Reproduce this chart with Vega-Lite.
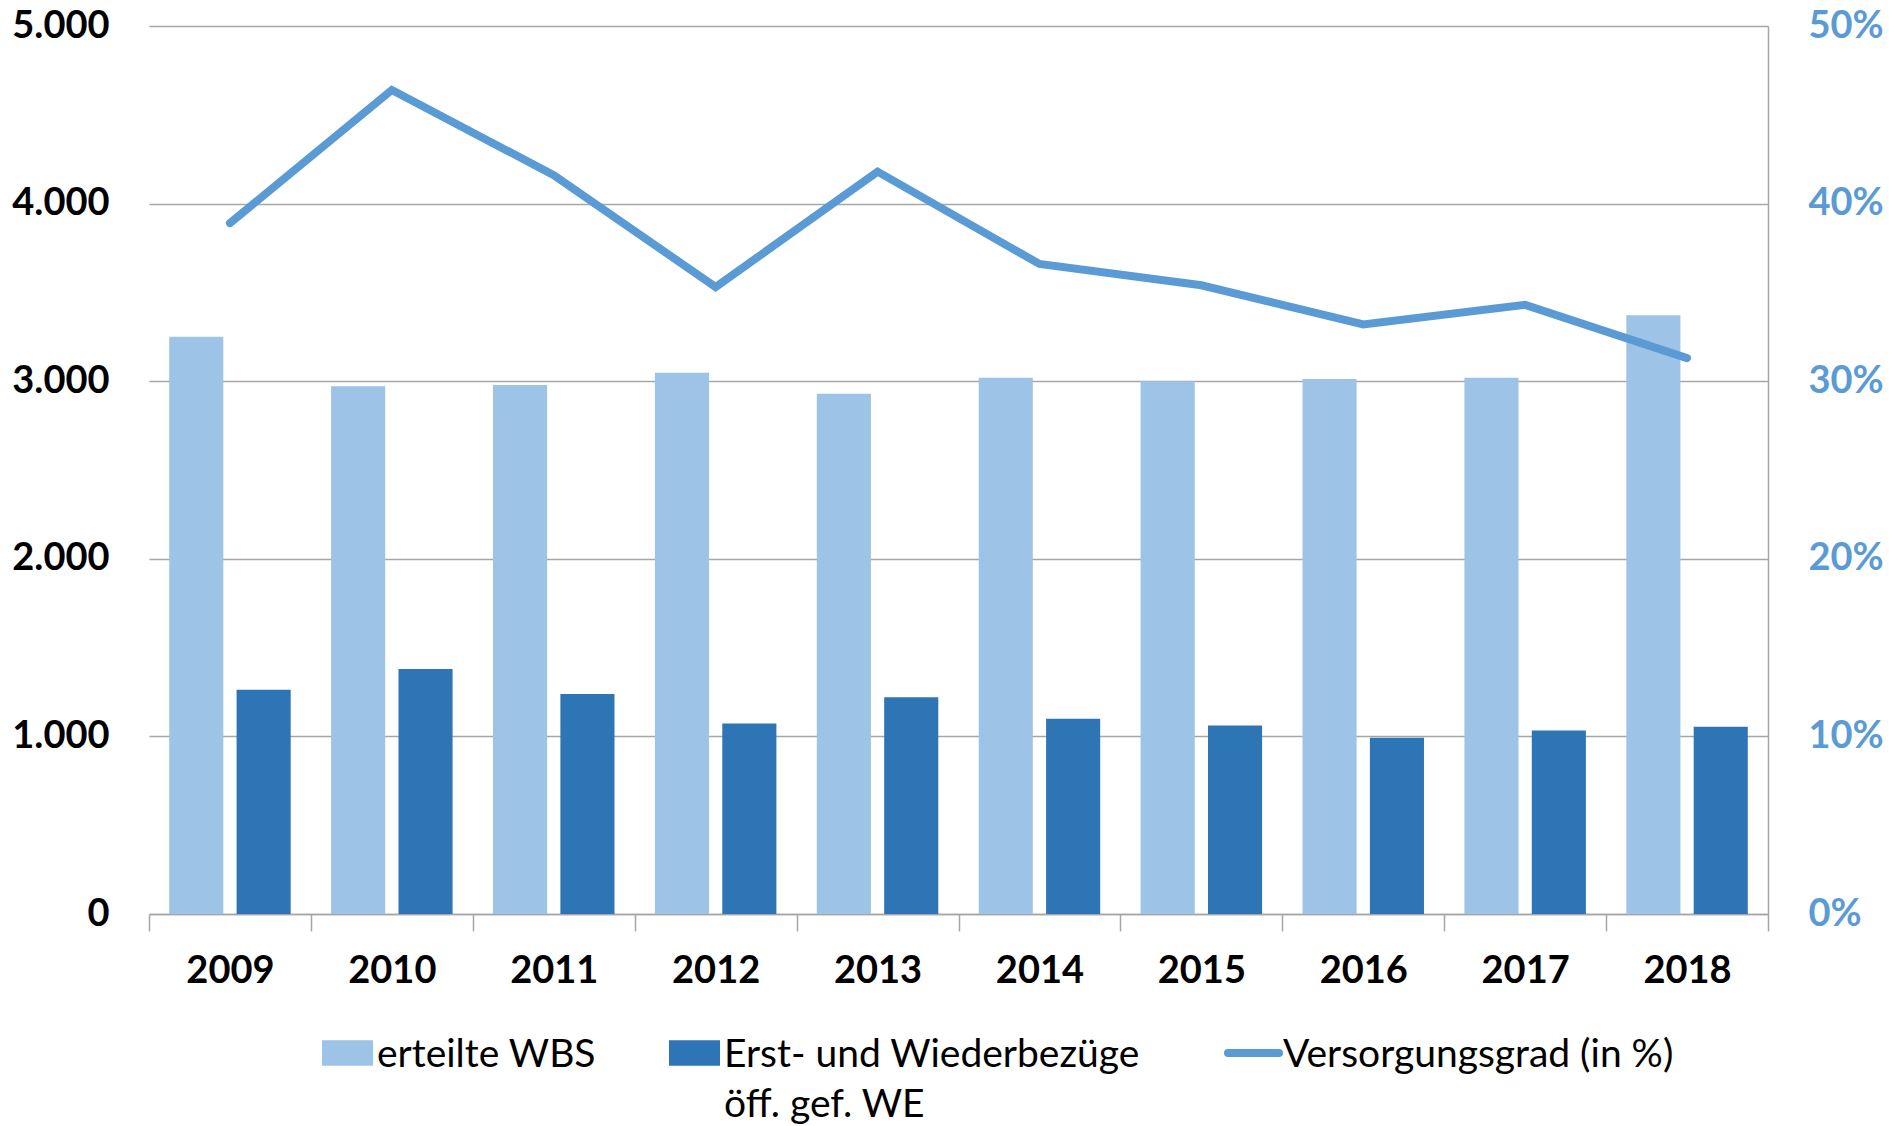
{
  "$schema": "https://vega.github.io/schema/vega-lite/v6.json",
  "width": 1619,
  "height": 888,
  "autosize": "none",
  "padding": {"left": 149, "top": 26, "right": 121, "bottom": 212},
  "background": "white",
  "config": {"view": {"stroke": null}, "font": "Lato"},
  "datasets": {
    "bars": [
      {"year": "2009", "series": "erteilte WBS", "value": 3250},
      {"year": "2010", "series": "erteilte WBS", "value": 2972},
      {"year": "2011", "series": "erteilte WBS", "value": 2978},
      {"year": "2012", "series": "erteilte WBS", "value": 3047},
      {"year": "2013", "series": "erteilte WBS", "value": 2930},
      {"year": "2014", "series": "erteilte WBS", "value": 3019},
      {"year": "2015", "series": "erteilte WBS", "value": 3000},
      {"year": "2016", "series": "erteilte WBS", "value": 3012},
      {"year": "2017", "series": "erteilte WBS", "value": 3019},
      {"year": "2018", "series": "erteilte WBS", "value": 3371},
      {"year": "2009", "series": "Erst- und Wiederbezüge öff. gef. WE", "value": 1263},
      {"year": "2010", "series": "Erst- und Wiederbezüge öff. gef. WE", "value": 1380},
      {"year": "2011", "series": "Erst- und Wiederbezüge öff. gef. WE", "value": 1239},
      {"year": "2012", "series": "Erst- und Wiederbezüge öff. gef. WE", "value": 1072},
      {"year": "2013", "series": "Erst- und Wiederbezüge öff. gef. WE", "value": 1221},
      {"year": "2014", "series": "Erst- und Wiederbezüge öff. gef. WE", "value": 1099},
      {"year": "2015", "series": "Erst- und Wiederbezüge öff. gef. WE", "value": 1061},
      {"year": "2016", "series": "Erst- und Wiederbezüge öff. gef. WE", "value": 993},
      {"year": "2017", "series": "Erst- und Wiederbezüge öff. gef. WE", "value": 1033},
      {"year": "2018", "series": "Erst- und Wiederbezüge öff. gef. WE", "value": 1055}
    ],
    "line": [
      {"year": "2009", "series": "Versorgungsgrad (in %)", "pct": 0.389},
      {"year": "2010", "series": "Versorgungsgrad (in %)", "pct": 0.464},
      {"year": "2011", "series": "Versorgungsgrad (in %)", "pct": 0.416},
      {"year": "2012", "series": "Versorgungsgrad (in %)", "pct": 0.353},
      {"year": "2013", "series": "Versorgungsgrad (in %)", "pct": 0.418},
      {"year": "2014", "series": "Versorgungsgrad (in %)", "pct": 0.366},
      {"year": "2015", "series": "Versorgungsgrad (in %)", "pct": 0.354},
      {"year": "2016", "series": "Versorgungsgrad (in %)", "pct": 0.332},
      {"year": "2017", "series": "Versorgungsgrad (in %)", "pct": 0.343},
      {"year": "2018", "series": "Versorgungsgrad (in %)", "pct": 0.313}
    ]
  },
  "layer": [
    {
      "data": {"name": "bars"},
      "mark": {"type": "bar"},
      "encoding": {
        "x": {
          "field": "year", "type": "ordinal",
          "scale": {"paddingInner": 0, "paddingOuter": 0},
          "axis": {
            "title": null, "labelAngle": 0, "labelFont": "Lato", "labelFontSize": 38, "labelFontWeight": "bold",
            "labelColor": "black", "labelPadding": 21, "domainColor": "#a6a6a6", "domainWidth": 1.5,
            "tickBand": "extent", "tickSize": 17, "tickColor": "#a6a6a6", "tickWidth": 1.5, "grid": false
          }
        },
        "xOffset": {
          "field": "series", "type": "nominal",
          "sort": ["erteilte WBS", "Erst- und Wiederbezüge öff. gef. WE"],
          "scale": {"paddingInner": 0.197, "paddingOuter": 0.3}
        },
        "y": {
          "field": "value", "type": "quantitative",
          "scale": {"domain": [0, 5000], "nice": false},
          "axis": {
            "title": null, "values": [0, 1000, 2000, 3000, 4000, 5000],
            "labelExpr": "replace(format(datum.value, ','), ',', '.')",
            "labelFont": "Lato", "labelFontSize": 38, "labelFontWeight": "bold", "labelColor": "black",
            "labelPadding": 40, "domain": false, "ticks": false,
            "grid": true, "gridColor": "#a6a6a6", "gridWidth": 1.4
          }
        },
        "color": {
          "field": "series", "type": "nominal",
          "scale": {
            "domain": ["erteilte WBS", "Erst- und Wiederbezüge öff. gef. WE", "Versorgungsgrad (in %)"],
            "range": ["#9dc3e6", "#2e75b6", "#5b9bd5"]
          },
          "legend": {
            "title": null, "orient": "none", "legendX": 179, "legendY": 1010,
            "direction": "horizontal", "columns": 3,
            "columnPadding": 72, "labelFont": "Lato", "labelFontSize": 39, "labelColor": "black",
            "labelLimit": 1000, "labelOffset": 10, "labelBaseline": "top",
            "symbolSize": 2601, "symbolType": "M-1,-0.5H1V0.5H-1Z",
            "labelExpr": "datum.value == 'Erst- und Wiederbezüge öff. gef. WE' ? ['Erst- und Wiederbezüge', 'öff. gef. WE'] : [datum.label, ' ']",
            "encode": {
              "symbols": {"update": {
                "shape": {"signal": "datum.value == 'Versorgungsgrad (in %)' ? 'M-1,0H1' : 'M-1,-0.5H1V0.5H-1Z'"},
                "strokeWidth": {"signal": "datum.value == 'Versorgungsgrad (in %)' ? 8 : 0"},
                "stroke": {"signal": "scale('color', datum.value)"},
                "fill": {"signal": "scale('color', datum.value)"},
                "strokeCap": {"value": "round"},
                "y": {"value": 17}
              }},
              "labels": {"update": {"y": {"value": 0}, "lineHeight": {"value": 50}}}
            }
          }
        }
      }
    },
    {
      "data": {"name": "line"},
      "mark": {"type": "line", "strokeWidth": 8, "strokeCap": "round", "strokeJoin": "miter"},
      "encoding": {
        "x": {"field": "year", "type": "ordinal"},
        "y": {
          "field": "pct", "type": "quantitative",
          "scale": {"domain": [0, 0.5], "nice": false},
          "axis": {
            "orient": "right", "title": null, "values": [0, 0.1, 0.2, 0.3, 0.4, 0.5], "format": ".0%",
            "labelFont": "Lato", "labelFontSize": 38, "labelFontWeight": "bold", "labelColor": "#5b9bd5",
            "labelPadding": 40, "grid": false, "ticks": false, "domain": true,
            "domainColor": "#a6a6a6", "domainWidth": 1.5
          }
        },
        "color": {"field": "series", "type": "nominal"}
      }
    }
  ],
  "resolve": {"scale": {"y": "independent"}}
}
